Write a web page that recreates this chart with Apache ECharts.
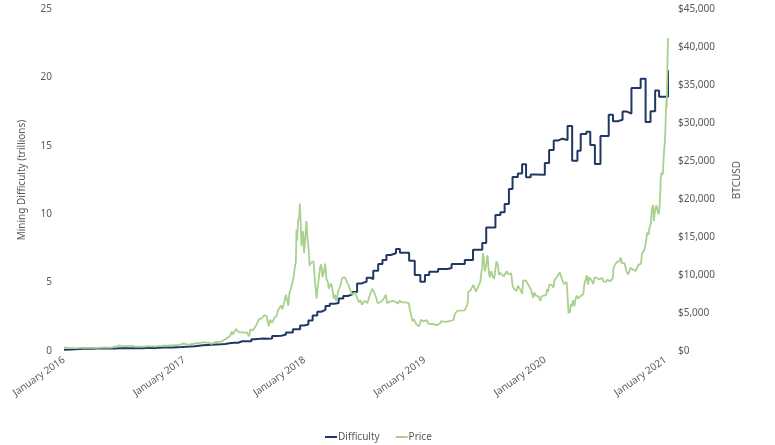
<!DOCTYPE html>
<html><head><meta charset="utf-8">
<script src="https://cdn.jsdelivr.net/npm/echarts@6/dist/echarts.min.js"></script>
<style>html,body{margin:0;padding:0;background:#fff}#c{width:775px;height:445px}</style>
</head><body><div id="c"></div>
<script>
// ---------- DATA ----------
const yearLabels = ["January 2016","January 2017","January 2018","January 2019","January 2020","January 2021"];
const seriesNames = ["Difficulty","Price"];
const startDate = "2016-01-01";
const endDate = "2021-01-08";

// Mining difficulty (trillions), value holds from the date until the next entry
const difficulty = [
["2016-01-01",0.10],["2016-01-08",0.11],["2016-01-21",0.12],["2016-02-04",0.14],["2016-02-17",0.16],
["2016-03-01",0.16],["2016-03-14",0.17],["2016-03-28",0.18],["2016-04-10",0.18],["2016-04-23",0.19],
["2016-05-08",0.20],["2016-05-21",0.19],["2016-06-04",0.20],["2016-06-18",0.21],["2016-07-01",0.21],
["2016-07-14",0.21],["2016-07-29",0.20],["2016-08-11",0.21],["2016-08-25",0.22],["2016-09-06",0.23],
["2016-09-19",0.21],["2016-10-03",0.24],["2016-10-16",0.25],["2016-10-29",0.25],["2016-11-12",0.25],
["2016-11-26",0.28],["2016-12-09",0.29],["2016-12-23",0.31],["2017-01-05",0.32],["2017-01-18",0.34],
["2017-02-01",0.39],["2017-02-14",0.42],["2017-02-26",0.44],["2017-03-11",0.46],["2017-03-24",0.48],
["2017-04-07",0.50],["2017-04-21",0.52],["2017-05-04",0.56],["2017-05-17",0.60],["2017-05-31",0.60],
["2017-06-13",0.71],["2017-06-25",0.71],["2017-07-09",0.71],["2017-07-23",0.86],["2017-08-04",0.89],
["2017-08-17",0.92],["2017-08-29",0.89],["2017-09-11",0.92],["2017-09-24",1.10],["2017-10-08",1.12],
["2017-10-22",1.20],["2017-11-05",1.36],["2017-11-13",1.35],["2017-11-26",1.59],["2017-12-18",1.87],
["2017-12-30",1.93],["2018-01-12",2.23],["2018-01-25",2.60],["2018-02-08",2.87],["2018-02-20",3.01],
["2018-03-05",3.29],["2018-03-18",3.46],["2018-04-01",3.51],["2018-04-14",3.84],["2018-04-28",4.02],
["2018-05-12",4.14],["2018-05-26",4.31],["2018-06-09",4.94],["2018-06-23",5.08],["2018-07-08",5.36],
["2018-07-20",5.25],["2018-07-28",5.87],["2018-08-12",6.36],["2018-08-25",6.65],["2018-09-06",7.02],
["2018-09-19",7.14],["2018-10-05",7.45],["2018-10-17",7.19],["2018-11-14",6.60],["2018-12-01",5.56],
["2018-12-18",5.07],["2019-01-01",5.56],["2019-01-14",5.80],["2019-02-10",5.99],["2019-03-10",6.07],
["2019-03-23",6.36],["2019-05-02",6.65],["2019-05-27",7.40],["2019-06-24",7.90],["2019-07-06",9.03],
["2019-08-03",9.95],["2019-08-18",10.15],["2019-08-31",10.75],["2019-09-13",11.85],["2019-09-24",12.72],
["2019-10-10",12.98],["2019-10-23",13.65],["2019-11-04",12.70],["2019-11-18",12.90],["2019-12-02",12.88],
["2019-12-31",13.75],["2020-01-13",14.70],["2020-01-27",15.38],["2020-02-09",15.52],["2020-02-22",15.42],
["2020-03-09",16.45],["2020-03-23",13.90],["2020-04-08",14.64],["2020-04-18",15.86],["2020-05-05",16.03],
["2020-05-17",15.06],["2020-05-31",13.67],["2020-06-17",15.72],["2020-07-12",17.27],["2020-07-25",16.80],
["2020-08-08",16.90],["2020-08-23",17.50],["2020-09-05",17.36],["2020-09-19",19.22],["2020-10-17",19.90],
["2020-11-01",16.74],["2020-11-16",17.52],["2020-11-30",19.05],["2020-12-12",18.59],["2021-01-08",20.52]
];

// BTC price (USD)
const price2016 = [
["2016-01-01",430],["2016-01-08",450],["2016-01-15",375],["2016-01-22",385],["2016-01-29",380],
["2016-02-05",385],["2016-02-12",380],["2016-02-19",420],["2016-02-26",425],["2016-03-04",410],
["2016-03-11",415],["2016-03-18",410],["2016-03-25",415],["2016-04-01",416],["2016-04-08",420],
["2016-04-15",428],["2016-04-22",448],["2016-04-29",455],["2016-05-06",460],["2016-05-13",455],
["2016-05-20",442],["2016-05-27",472],["2016-06-03",570],["2016-06-10",575],["2016-06-13",705],
["2016-06-17",750],["2016-06-19",760],["2016-06-22",590],["2016-06-26",630],["2016-07-01",675],
["2016-07-08",640],["2016-07-15",665],["2016-07-22",665],["2016-07-29",655],["2016-08-02",545],
["2016-08-05",575],["2016-08-12",585],["2016-08-19",575],["2016-08-26",577],["2016-09-02",575],
["2016-09-09",625],["2016-09-16",605],["2016-09-23",600],["2016-09-30",610],["2016-10-07",616],
["2016-10-14",640],["2016-10-21",630],["2016-10-28",690],["2016-11-04",700],["2016-11-11",715],
["2016-11-18",740],["2016-11-25",740],["2016-12-02",770],["2016-12-09",770],["2016-12-16",785],
["2016-12-23",920],["2016-12-30",960]
];
const price2017 = [
["2017-01-04",1130],["2017-01-07",900],["2017-01-11",780],["2017-01-14",820],["2017-01-21",920],
["2017-01-28",920],["2017-02-04",1030],["2017-02-11",1000],["2017-02-18",1055],["2017-02-25",1150],
["2017-03-03",1270],["2017-03-10",1100],["2017-03-17",1070],["2017-03-24",940],["2017-03-31",1080],
["2017-04-07",1190],["2017-04-14",1180],["2017-04-21",1240],["2017-04-28",1340],["2017-05-05",1580],
["2017-05-12",1730],["2017-05-19",1970],["2017-05-25",2550],["2017-05-27",2150],["2017-06-01",2400],
["2017-06-06",2900],["2017-06-11",2960],["2017-06-15",2450],["2017-06-21",2700],["2017-06-27",2450],
["2017-07-03",2600],["2017-07-10",2400],["2017-07-16",1930],["2017-07-20",2850],["2017-07-27",2700],
["2017-08-01",2740],["2017-08-05",3250],["2017-08-10",3400],["2017-08-15",4200],["2017-08-20",4100],
["2017-08-24",4300],["2017-08-31",4700],["2017-09-02",4900],["2017-09-07",4600],["2017-09-14",3250],
["2017-09-18",4100],["2017-09-24",3700],["2017-10-01",4400],["2017-10-08",4600],["2017-10-12",5400],
["2017-10-17",5600],["2017-10-21",6000],["2017-10-25",5500],["2017-10-31",6450],["2017-11-05",7400],
["2017-11-08",7450],["2017-11-12",5950],["2017-11-16",7800],["2017-11-20",8200],["2017-11-26",9300],
["2017-11-29",9900],["2017-12-01",10800],["2017-12-05",11700],["2017-12-07",16000],["2017-12-09",14500],
["2017-12-12",17200],["2017-12-15",17600],["2017-12-17",19400],["2017-12-19",17700],["2017-12-22",13800],
["2017-12-24",13900],["2017-12-27",15800],["2017-12-30",12900]
];
const price2018 = [
["2018-01-03",15000],["2018-01-06",17100],["2018-01-09",15000],["2018-01-12",13800],["2018-01-16",11200],
["2018-01-18",11500],["2018-01-21",11600],["2018-01-24",11300],["2018-01-28",11800],["2018-02-01",9100],
["2018-02-03",9200],["2018-02-06",6900],["2018-02-09",8300],["2018-02-13",8500],["2018-02-17",11100],
["2018-02-20",11400],["2018-02-24",9700],["2018-02-28",10400],["2018-03-04",11500],["2018-03-08",9400],
["2018-03-12",9100],["2018-03-15",8200],["2018-03-18",8200],["2018-03-21",8900],["2018-03-25",8400],
["2018-03-30",6900],["2018-04-03",7400],["2018-04-06",6600],["2018-04-10",6800],["2018-04-13",7900],
["2018-04-17",7900],["2018-04-21",8900],["2018-04-24",9600],["2018-04-28",9400],["2018-05-03",9700],
["2018-05-06",9700],["2018-05-10",9000],["2018-05-14",8700],["2018-05-18",8100],["2018-05-22",8000],
["2018-05-26",7400],["2018-05-30",7400],["2018-06-03",7700],["2018-06-07",7700],["2018-06-11",6800],
["2018-06-15",6400],["2018-06-19",6700],["2018-06-24",6100],["2018-06-28",5900],["2018-07-02",6600],
["2018-07-06",6600],["2018-07-10",6300],["2018-07-15",6300],["2018-07-18",7400],["2018-07-22",7400],
["2018-07-25",8200],["2018-07-29",8200],["2018-08-02",7500],["2018-08-06",7000],["2018-08-10",6300],
["2018-08-14",6200],["2018-08-18",6400],["2018-08-22",6400],["2018-08-26",6700],["2018-08-30",7000],
["2018-09-04",7400],["2018-09-08",6300],["2018-09-12",6300],["2018-09-16",6500],["2018-09-20",6500],
["2018-09-24",6600],["2018-09-28",6600],["2018-10-02",6500],["2018-10-08",6600],["2018-10-11",6250],
["2018-10-15",6600],["2018-10-20",6400],["2018-10-25",6400],["2018-10-30",6300],["2018-11-04",6400],
["2018-11-08",6400],["2018-11-13",6300],["2018-11-15",5700],["2018-11-19",5600],["2018-11-20",4700],
["2018-11-24",3900],["2018-11-25",4000],["2018-11-28",4200],["2018-12-02",4100],["2018-12-06",3500],
["2018-12-10",3450],["2018-12-14",3250],["2018-12-17",3500],["2018-12-20",4100],["2018-12-24",4000],
["2018-12-28",3900],["2018-12-31",3800]
];
const price2019 = [
["2019-01-03",3800],["2019-01-07",4050],["2019-01-10",3650],["2019-01-14",3600],["2019-01-20",3550],
["2019-01-27",3550],["2019-02-01",3480],["2019-02-07",3400],["2019-02-10",3650],["2019-02-17",3680],
["2019-02-20",3950],["2019-02-24",3800],["2019-03-01",3820],["2019-03-08",3870],["2019-03-15",3920],
["2019-03-22",4000],["2019-03-29",4100],["2019-04-02",4900],["2019-04-06",5050],["2019-04-10",5300],
["2019-04-14",5150],["2019-04-20",5300],["2019-04-26",5200],["2019-05-01",5350],["2019-05-08",5900],
["2019-05-11",6400],["2019-05-13",7800],["2019-05-16",7900],["2019-05-20",8000],["2019-05-24",7900],
["2019-05-28",8700],["2019-06-01",8600],["2019-06-05",7800],["2019-06-10",8000],["2019-06-15",8800],
["2019-06-18",9100],["2019-06-21",10200],["2019-06-24",11000],["2019-06-26",12900],["2019-06-28",12400],
["2019-07-02",10500],["2019-07-06",11300],["2019-07-10",12600],["2019-07-14",10300],["2019-07-17",9700],
["2019-07-21",10500],["2019-07-25",9900],["2019-07-30",9500],["2019-08-03",10800],["2019-08-06",11800],
["2019-08-10",11400],["2019-08-14",10000],["2019-08-18",10300],["2019-08-22",10100],["2019-08-28",9800],
["2019-09-01",9600],["2019-09-06",10500],["2019-09-10",10100],["2019-09-15",10300],["2019-09-20",10200],
["2019-09-24",8600],["2019-09-28",8200],["2019-10-02",8300],["2019-10-06",7900],["2019-10-10",8600],
["2019-10-15",8400],["2019-10-19",8000],["2019-10-23",7500],["2019-10-26",9250],["2019-10-30",9200],
["2019-11-03",9300],["2019-11-07",9200],["2019-11-11",8700],["2019-11-15",8500],["2019-11-19",8100],
["2019-11-22",7600],["2019-11-25",7000],["2019-11-29",7700],["2019-12-03",7300],["2019-12-07",7500],
["2019-12-11",7200],["2019-12-15",7100],["2019-12-18",6600],["2019-12-20",7150],["2019-12-24",7300],
["2019-12-28",7300]
];
const price2020 = [
["2020-01-01",7200],["2020-01-04",7350],["2020-01-07",8150],["2020-01-10",7800],["2020-01-14",8800],
["2020-01-18",8900],["2020-01-22",8650],["2020-01-26",8350],["2020-01-30",9400],["2020-02-03",9300],
["2020-02-07",9800],["2020-02-10",9850],["2020-02-14",10350],["2020-02-18",10200],["2020-02-20",9600],
["2020-02-24",9650],["2020-02-27",8800],["2020-03-02",8900],["2020-03-06",9100],["2020-03-08",8000],
["2020-03-10",7900],["2020-03-12",4950],["2020-03-14",5400],["2020-03-16",5000],["2020-03-19",6200],
["2020-03-22",5850],["2020-03-26",6700],["2020-03-30",5900],["2020-04-02",6800],["2020-04-06",7300],
["2020-04-10",6900],["2020-04-14",6850],["2020-04-18",7250],["2020-04-22",7100],["2020-04-26",7500],
["2020-04-29",8800],["2020-05-02",8900],["2020-05-07",9950],["2020-05-10",8750],["2020-05-14",9700],
["2020-05-18",9700],["2020-05-22",9200],["2020-05-26",8800],["2020-05-30",9700],["2020-06-02",9500],
["2020-06-06",9650],["2020-06-10",9800],["2020-06-14",9400],["2020-06-18",9400],["2020-06-22",9650],
["2020-06-26",9150],["2020-06-30",9150],["2020-07-04",9100],["2020-07-08",9400],["2020-07-12",9300],
["2020-07-16",9150],["2020-07-20",9200],["2020-07-24",9550],["2020-07-27",11000],["2020-07-31",11300],
["2020-08-02",11050],["2020-08-06",11750],["2020-08-10",11900],["2020-08-14",11800],["2020-08-17",12300],
["2020-08-21",11550],["2020-08-25",11350],["2020-08-29",11550],["2020-09-02",11400],["2020-09-04",10450],
["2020-09-08",10100],["2020-09-12",10400],["2020-09-16",10950],["2020-09-20",10900],["2020-09-24",10700],
["2020-09-28",10700],["2020-10-02",10550],["2020-10-06",10600],["2020-10-10",11300],["2020-10-14",11450],
["2020-10-18",11500],["2020-10-21",12800],["2020-10-24",13000],["2020-10-28",13300],["2020-10-31",13800],
["2020-11-04",14000],["2020-11-06",15600],["2020-11-10",15300],["2020-11-13",16300],["2020-11-17",16700],
["2020-11-20",18700],["2020-11-24",19200],["2020-11-26",17100],["2020-11-29",18200],["2020-12-01",18800],
["2020-12-04",19150],["2020-12-08",18300],["2020-12-11",18000],["2020-12-14",19250],["2020-12-16",21300],
["2020-12-17",22800],["2020-12-20",23500],["2020-12-23",23200],["2020-12-25",24700],["2020-12-27",26300],
["2020-12-29",27300],["2020-12-31",29000]
];
const price2021 = [
["2021-01-02",32200],["2021-01-03",33000],["2021-01-04",31900],["2021-01-06",36800],["2021-01-07",39400],
["2021-01-08",41200]
];

// ---------- BUILD ----------
const DAY = 86400000;
const t0 = Date.parse(startDate + "T00:00:00Z");
const toDay = s => (Date.parse(s + "T00:00:00Z") - t0) / DAY;
const conv = arr => arr.map(p => [toDay(p[0]), p[1]]);
const priceAll = [].concat(price2016, price2017, price2018, price2019, price2020, price2021);
const yearLen = 365.25;

const chart = echarts.init(document.getElementById('c'), null, {renderer: 'canvas'});
const txt = '#595959';
const font = "'Noto Sans', 'Liberation Sans', sans-serif";
chart.setOption({
  animation: false,
  backgroundColor: '#ffffff',
  grid: {left: 64, right: 107, top: 9, bottom: 94, containLabel: false},
  legend: {
    data: seriesNames, left: 320, top: 427, icon: 'rect', itemWidth: 12, itemHeight: 2, itemGap: 16,
    textStyle: {color: txt, fontSize: 10, fontFamily: font, padding: [0,0,0,-4]}
  },
  xAxis: {
    type: 'value', min: 0, max: toDay(endDate), interval: yearLen,
    axisLine: {show: false}, axisTick: {show: false}, splitLine: {show: false},
    axisLabel: {
      rotate: 35, color: txt, fontSize: 10, fontFamily: font, margin: 8, showMaxLabel: false,
      formatter: v => yearLabels[Math.round(v / yearLen)] || ''
    }
  },
  yAxis: [
    {type: 'value', min: 0, max: 25, interval: 5, position: 'left',
     name: 'Mining Difficulty (trillions)', nameLocation: 'middle', nameGap: 37,
     nameTextStyle: {color: txt, fontSize: 10, fontFamily: font},
     axisLine: {show: false}, axisTick: {show: false}, splitLine: {show: false},
     axisLabel: {color: txt, fontSize: 10, fontFamily: font, margin: 12}},
    {type: 'value', min: 0, max: 45000, interval: 5000, position: 'right',
     name: 'BTCUSD', nameLocation: 'middle', nameGap: 64,
     nameTextStyle: {color: txt, fontSize: 10, fontFamily: font},
     axisLine: {show: false}, axisTick: {show: false}, splitLine: {show: false},
     axisLabel: {color: txt, fontSize: 10, fontFamily: font, margin: 10,
       formatter: v => '$' + v.toLocaleString('en-US')}}
  ],
  series: [
    {name: seriesNames[0], type: 'line', yAxisIndex: 0, step: 'end', showSymbol: false,
     data: conv(difficulty), lineStyle: {color: '#203864', width: 2}, itemStyle: {color: '#203864'}, z: 2},
    {name: seriesNames[1], type: 'line', yAxisIndex: 1, showSymbol: false,
     data: conv(priceAll), lineStyle: {color: '#A9D18E', width: 1.8}, itemStyle: {color: '#A9D18E'}, z: 3}
  ]
});
</script></body></html>
